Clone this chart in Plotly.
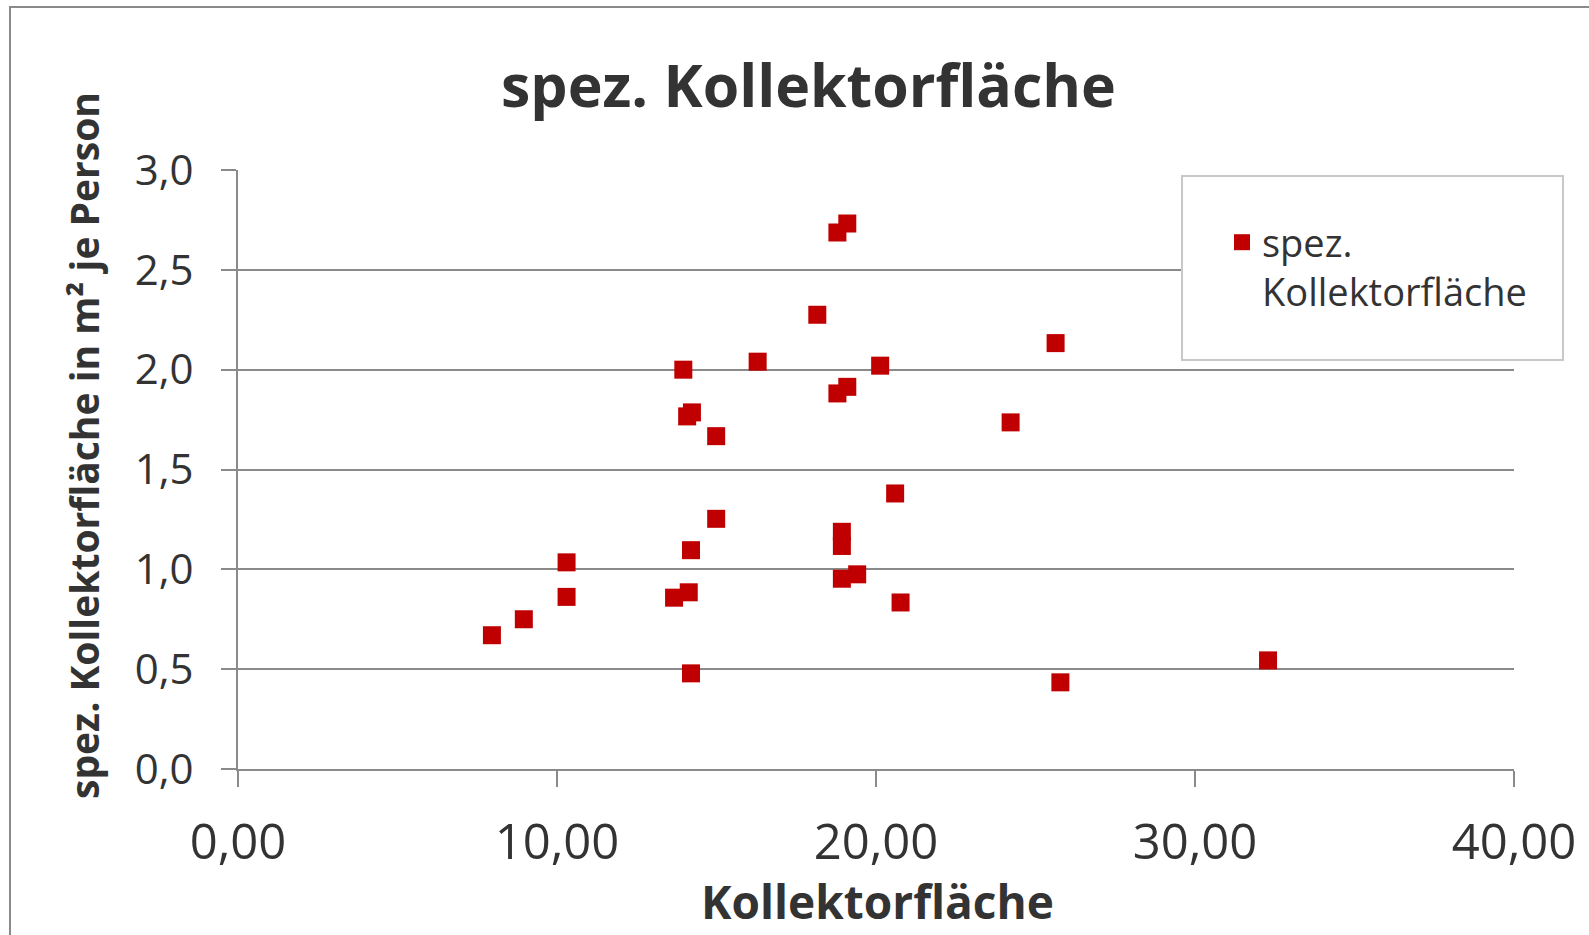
import plotly.graph_objects as go

# Data
kollektorflaeche = [7.96, 8.96, 10.30, 10.30, 13.67, 14.13, 14.20, 14.20, 14.99, 14.99,
                    14.08, 14.23, 13.96, 16.29, 18.16, 18.79, 19.10, 18.79, 19.10, 20.13,
                    18.93, 18.93, 18.93, 19.41, 20.60, 20.77, 24.22, 25.63, 25.78, 32.29]
spez_flaeche = [0.670, 0.750, 1.035, 0.862, 0.858, 0.885, 0.479, 1.096, 1.253, 1.667,
                1.766, 1.786, 2.000, 2.040, 2.275, 2.687, 2.732, 1.881, 1.914, 2.020,
                1.188, 1.117, 0.953, 0.975, 1.380, 0.834, 1.736, 2.133, 0.434, 0.544]

x_ticks = [0, 10, 20, 30, 40]
x_tick_labels = ["0,00", "10,00", "20,00", "30,00", "40,00"]
y_ticks = [0, 0.5, 1.0, 1.5, 2.0, 2.5, 3.0]
y_tick_labels = ["0,0", "0,5", "1,0", "1,5", "2,0", "2,5", "3,0"]

series_name = "spez.<br>Kollektorfläche"
title_text = "spez. Kollektorfläche"
x_title = "Kollektorfläche"
y_title = "spez. Kollektorfläche in m² je Person"

W, H = 1589, 935
L, R, T, B = 238, 75, 170, 166
pw, ph = W - L - R, H - T - B


def px(xp):
    return (xp - L) / pw


def py(yp):
    return (H - B - yp) / ph


grid = "#8a8a8a"
txt = "#333333"
font = "Open Sans"

fig = go.Figure()
fig.add_trace(go.Scatter(
    x=kollektorflaeche, y=spez_flaeche, mode="markers", name=series_name,
    marker=dict(symbol="square", size=18, color="#C00000", line=dict(width=0)),
    showlegend=True,
))

fig.update_layout(
    width=W, height=H,
    margin=dict(l=L, r=R, t=T, b=B),
    paper_bgcolor="white", plot_bgcolor="white",
    font=dict(family=font, color=txt),
    showlegend=True,
    legend=dict(x=px(1222), y=py(211), xanchor="left", yanchor="top",
                bgcolor="rgba(0,0,0,0)", borderwidth=0,
                font=dict(family=font, size=38, color=txt), valign="top"),
    xaxis=dict(range=[0, 40], tickvals=x_ticks, ticktext=x_tick_labels,
               showgrid=False, zeroline=False, showline=True, linecolor=grid, linewidth=2,
               ticks="outside", ticklen=16, tickwidth=2, tickcolor=grid,
               tickfont=dict(family=font, size=49, color=txt), ticklabelstandoff=13),
    yaxis=dict(range=[0, 3], tickvals=y_ticks, ticktext=y_tick_labels,
               showgrid=True, gridcolor=grid, gridwidth=2, zeroline=False,
               showline=True, linecolor=grid, linewidth=2,
               ticks="outside", ticklen=15, tickwidth=2, tickcolor=grid,
               tickfont=dict(family=font, size=42, color=txt), ticklabelstandoff=19),
)

# Outer chart border (left and top visible)
fig.add_shape(type="rect", xref="paper", yref="paper",
              x0=px(10), x1=px(1620), y0=py(960), y1=py(7),
              line=dict(color="#8a8a8a", width=2), fillcolor="rgba(0,0,0,0)", layer="below")
# Legend box
fig.add_shape(type="rect", xref="paper", yref="paper",
              x0=px(1182), x1=px(1563), y0=py(360), y1=py(176),
              line=dict(color="#c8c8c8", width=2), fillcolor="white", layer="above")

fig.add_annotation(text=f"<b>{title_text}</b>", xref="paper", yref="paper",
                   x=px(808), y=py(84), xanchor="center", yanchor="middle", showarrow=False,
                   font=dict(family=font, size=59, color=txt))
fig.add_annotation(text=f"<b>{x_title}</b>", xref="paper", yref="paper",
                   x=px(877), y=py(901), xanchor="center", yanchor="middle", showarrow=False,
                   font=dict(family=font, size=46, color=txt))
fig.add_annotation(text=f"<b>{y_title}</b>", xref="paper", yref="paper",
                   x=px(83), y=py(446), xanchor="center", yanchor="middle", showarrow=False,
                   textangle=-90, font=dict(family=font, size=39, color=txt))

fig.write_html("out.html", config={"displayModeBar": False},
               post_script="document.body.style.margin='0';")
